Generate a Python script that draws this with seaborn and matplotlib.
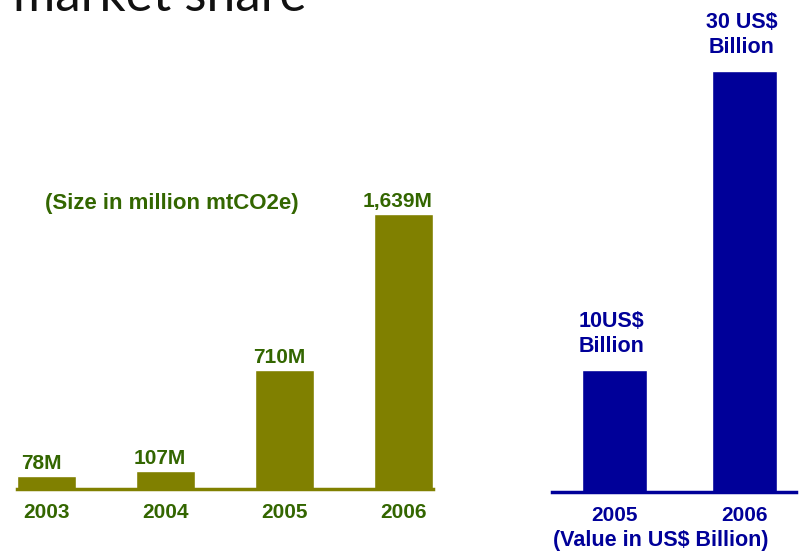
import matplotlib
matplotlib.use("Agg")
import matplotlib.pyplot as plt
import seaborn as sns

# Carbon market size (volume) and value
volume_years = ["2003", "2004", "2005", "2006"]
volume_mt = [78, 107, 710, 1639]
volume_labels = ["78M", "107M", "710M", "1,639M"]

value_years = ["2005", "2006"]
value_bn = [10, 30]
value_labels = ["10US$\nBillion", "30 US$\nBillion"]

OLIVE = "#808000"
GREEN_TXT = "#336600"
NAVY = "#000099"

sns.set_theme(style="white")
plt.rcParams["font.family"] = ["Liberation Sans", "DejaVu Sans"]

W, H = 799, 552
fig = plt.figure(figsize=(W / 100, H / 100), dpi=100)


def px_axes(x0, x1, ytop, ybot):
    return fig.add_axes([x0 / W, 1 - ybot / H, (x1 - x0) / W, (ybot - ytop) / H])


# ---- volume chart ----
ax1 = px_axes(17, 433, 200, 489)
sns.barplot(x=volume_years, y=volume_mt, color=OLIVE, saturation=1,
            width=0.5, ax=ax1)
ax1.set_xlim(-0.25, 3.25)
ax1.set_ylim(0, 1720)
for i, (v, lab) in enumerate(zip(volume_mt, volume_labels)):
    ax1.annotate(lab, (i, v), xytext=(-4, 2), textcoords="offset points",
                 ha="center", va="bottom", fontsize=15, fontweight="bold",
                 color=GREEN_TXT, annotation_clip=False)
ax1.text(0.373, 0.987, "(Size in million mtCO2e)", transform=ax1.transAxes,
         ha="center", va="center", fontsize=16, fontweight="bold",
         color=GREEN_TXT)

# ---- value chart ----
ax2 = px_axes(552, 796, 40, 492)
sns.barplot(x=value_years, y=value_bn, color=NAVY, saturation=1,
            width=0.5, ax=ax2)
ax2.set_xlim(-0.48, 1.396)
ax2.set_ylim(1.84, 32.07)
for i, (v, lab) in enumerate(zip(value_bn, value_labels)):
    ax2.annotate(lab, (i, v), xytext=(-2, 9), textcoords="offset points",
                 ha="center", va="bottom", fontsize=15.5, fontweight="bold",
                 color=NAVY, linespacing=1.25, annotation_clip=False)
ax2.set_xlabel("(Value in US$ Billion)", fontsize=15.5, fontweight="bold",
               color=NAVY)
ax2.xaxis.set_label_coords(0.447, -0.084)

for ax, col in ((ax1, OLIVE), (ax2, NAVY)):
    for s in ("top", "left", "right"):
        ax.spines[s].set_visible(False)
    ax.spines["bottom"].set_color(col)
    ax.spines["bottom"].set_linewidth(2.5)
    ax.set_yticks([])
    ax.set_ylabel("")
    ax.tick_params(axis="x", length=0, pad=10)
    ax.patch.set_alpha(0)

for t in ax1.get_xticklabels():
    t.set_fontsize(15)
    t.set_fontweight("bold")
    t.set_color(GREEN_TXT)
for t in ax2.get_xticklabels():
    t.set_fontsize(15)
    t.set_fontweight("bold")
    t.set_color(NAVY)

# heading, partly above the top edge
fig.text(13 / W, 1 - 11 / H, "market share", ha="left", va="baseline",
         fontsize=37, family=["Lato", "DejaVu Sans"], fontweight="normal",
         color="#111111")

fig.savefig("out.png", dpi=100)
